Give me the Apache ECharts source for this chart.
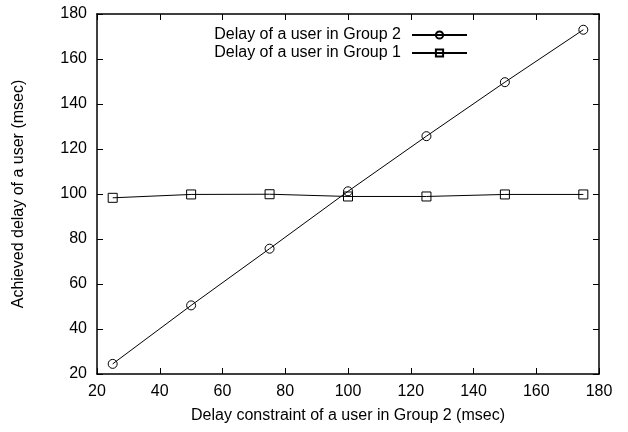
<!DOCTYPE html>
<html>
<head>
<meta charset="utf-8">
<script src="https://cdn.jsdelivr.net/npm/echarts@6/dist/echarts.min.js"></script>
<style>
  html, body { margin: 0; padding: 0; background: #fff; }
  #chart { width: 628px; height: 432px; }
</style>
</head>
<body>
<div id="chart"></div>
<script>
var constraints = [25, 50, 75, 100, 125, 150, 175];
var group2Delay = [24.5, 50.5, 75.7, 101.2, 125.7, 149.7, 173];
var group1Delay = [98.3, 99.8, 99.9, 98.9, 98.9, 99.8, 99.8];

var font = 'Liberation Sans, Arial, sans-serif';

function pairs(xs, ys) {
  return xs.map(function (x, i) { return [x, ys[i]]; });
}

var myChart = echarts.init(document.getElementById('chart'), null, { renderer: 'canvas' });
var frame = {
  axisLine: { show: true, lineStyle: { color: '#000', width: 1.5 } },
  axisTick: { show: true, inside: true, length: 6, lineStyle: { color: '#000', width: 1 } },
  splitLine: { show: false }
};
var option = {
  backgroundColor: '#fff',
  animation: false,
  grid: { left: 97, right: 29, top: 14, bottom: 58 },
  legend: {
    orient: 'vertical',
    right: 155,
    top: 22,
    align: 'right',
    itemWidth: 55,
    itemHeight: 9,
    itemGap: 2,
    textStyle: { fontFamily: font, fontSize: 16, color: '#000', padding: [0, 6, 0, 0] },
    data: ['Delay of a user in Group 2', 'Delay of a user in Group 1']
  },
  xAxis: [
    Object.assign({
      type: 'value', min: 20, max: 180, interval: 20,
      name: 'Delay constraint of a user in Group 2 (msec)',
      nameLocation: 'middle', nameGap: 34,
      nameTextStyle: { fontFamily: font, fontSize: 16, color: '#000' },
      axisLabel: { fontFamily: font, fontSize: 16, color: '#000', margin: 10 }
    }, frame),
    Object.assign({
      type: 'value', min: 20, max: 180, interval: 20, position: 'top',
      axisLabel: { show: false }
    }, frame)
  ],
  yAxis: [
    Object.assign({
      type: 'value', min: 20, max: 180, interval: 20,
      name: 'Achieved delay of a user (msec)',
      nameLocation: 'middle', nameGap: 70,
      nameTextStyle: { fontFamily: font, fontSize: 16, color: '#000' },
      axisLabel: { fontFamily: font, fontSize: 16, color: '#000', margin: 10 }
    }, frame),
    Object.assign({
      type: 'value', min: 20, max: 180, interval: 20, position: 'right',
      axisLabel: { show: false }
    }, frame)
  ],
  series: [
    {
      name: 'Delay of a user in Group 2',
      type: 'line',
      data: pairs(constraints, group2Delay),
      symbol: 'circle',
      symbolSize: 9,
      lineStyle: { color: '#000', width: 1 },
      itemStyle: { color: 'rgba(255,255,255,0)', borderColor: '#000', borderWidth: 1 }
    },
    {
      name: 'Delay of a user in Group 1',
      type: 'line',
      data: pairs(constraints, group1Delay),
      symbol: 'rect',
      symbolSize: 9,
      lineStyle: { color: '#000', width: 1 },
      itemStyle: { color: 'rgba(255,255,255,0)', borderColor: '#000', borderWidth: 1 }
    }
  ]
};
myChart.setOption(option);
</script>
</body>
</html>
